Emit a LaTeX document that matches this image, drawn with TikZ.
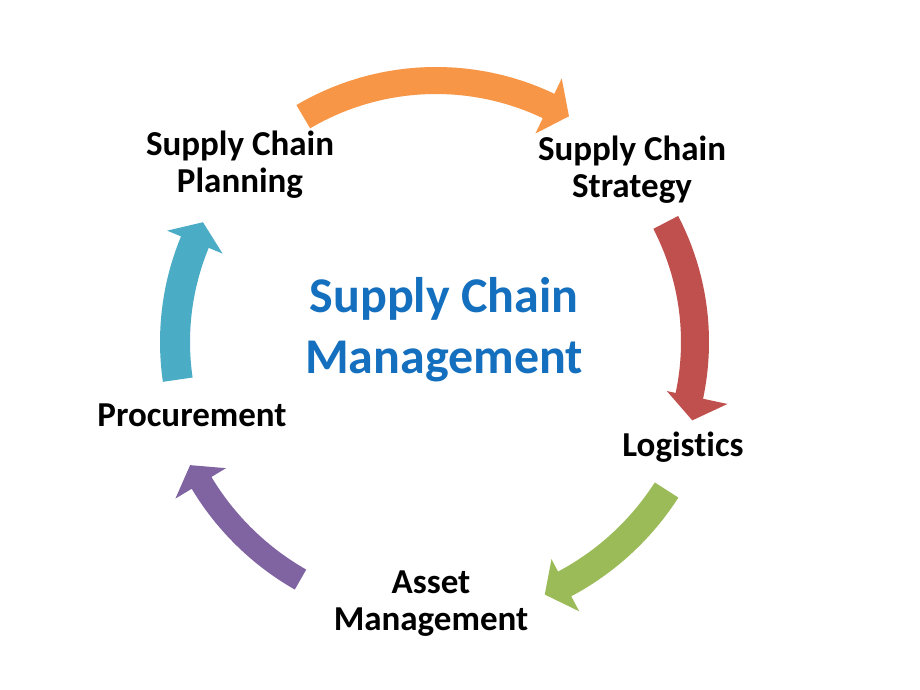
\documentclass[tikz,border=0pt]{standalone}
\usepackage{fontspec}
\setmainfont{Carlito}[Ligatures=NoCommon]
\definecolor{cOrange}{HTML}{F79646}
\definecolor{cRed}{HTML}{C0504D}
\definecolor{cGreen}{HTML}{9BBB59}
\definecolor{cPurple}{HTML}{8064A2}
\definecolor{cBlue}{HTML}{4BACC6}
\definecolor{cTitle}{HTML}{1470BE}
% color, tail angle, head-base angle, inner r, outer r, barb inner r, barb outer r, tip angle, tip r
\newcommand{\cyclearrow}[9]{%
  \fill[#1] (#2:#4pt) arc[start angle=#2, end angle=#3, radius=#4pt]
    -- (#3:#6pt) -- (#8:#9pt) -- (#3:#7pt) -- (#3:#5pt)
    arc[start angle=#3, end angle=#2, radius=#5pt] -- cycle;}
\tikzset{
  lbl/.style={inner sep=0pt, align=center, font=\fontsize{35}{37}\selectfont\bfseries, text=black},
  title/.style={inner sep=0pt, align=center, font=\fontsize{50}{61}\selectfont\bfseries, text=cTitle}
}
\begin{document}
\begin{tikzpicture}[x=1pt,y=1pt]
\useasboundingbox (0,0) rectangle (920,-690);
\fill[white] (0,0) rectangle (920,-690);
\begin{scope}[shift={(436,-342)}]
\cyclearrow{cOrange}{120.5}{64.5}{248}{275}{231}{292}{59.5}{262}
\cyclearrow{cRed}{27.5}{-12}{245}{273}{236}{298}{-17}{268}
\cyclearrow{cGreen}{-32.7}{-62}{260}{288}{246}{305}{-66.7}{275}
\cyclearrow{cPurple}{240.3}{211}{262}{285}{245}{304}{206.6}{275}
\cyclearrow{cBlue}{188.3}{157.5}{246}{276}{231}{291}{152.8}{262}
\end{scope}
\node[lbl] (plan) at (240,-165) {Supply Chain\\Planning};
\node[lbl] (strat) at (632,-170) {Supply Chain\\Strategy};
\node[lbl] (log) at (683,-447) {Logistics};
\node[lbl] (asset) at (431,-604) {Asset\\Management};
\node[lbl] (proc) at (192,-415) {Procurement};
\node[title] (scm) at (444,-330) {Supply Chain\\Management};
\end{tikzpicture}
\end{document}
